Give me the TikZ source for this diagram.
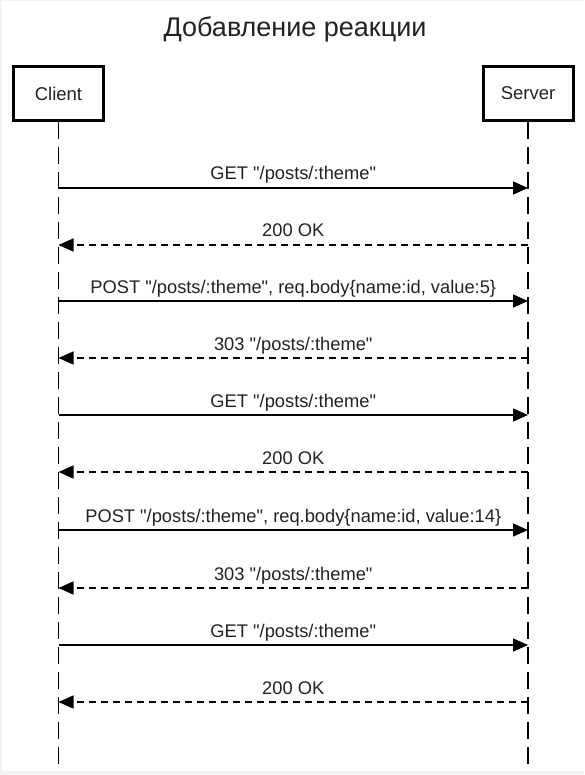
\documentclass[tikz,border=0pt]{standalone}
\usepackage{fontspec}
\setmainfont{Liberation Sans}
\usetikzlibrary{arrows.meta}
\definecolor{bggray}{HTML}{F3F3F3}
\definecolor{txt}{HTML}{222222}
\newcommand{\dq}{\textquotedbl}
\begin{document}
\begin{tikzpicture}[x=1pt,y=-1pt,
  actor/.style={draw=black, line width=3pt, minimum width=90pt, minimum height=54pt, inner sep=0pt, font=\fontsize{18.5}{20}\selectfont, text=txt},
  lifeline/.style={draw=black, line width=1.5pt, dash pattern=on 17pt off 8pt},
  req/.style={draw=black, line width=1.5pt, -{Triangle[length=15pt,width=13pt]}},
  resp/.style={draw=black, line width=1.5pt, dash pattern=on 7pt off 5pt, -{Triangle[length=15pt,width=13pt]}},
  lbl/.style={font=\fontsize{18.3}{20}\selectfont, text=txt, anchor=base, yshift=8pt, inner sep=0pt}]
\fill[bggray] (0,0) rectangle (584,775);
\fill[white] (2,1) rectangle (584,771);
\useasboundingbox (0,0) rectangle (584,775);
\node[font=\fontsize{27}{30}\selectfont, text=txt, anchor=base] (title) at (295,37) {Добавление реакции};
\node[actor] (client) at (58.5,93.5) {Client};
\node[actor] (server) at (528,93.5) {Server};
\coordinate (cend) at (58.5,767);
\coordinate (send) at (528,767);
\draw[lifeline] (client.south) -- (cend);
\draw[lifeline] (server.south) -- (send);
\foreach \i/\y in {1/188,2/245,3/301,4/358,5/415,6/472,7/530,8/588,9/645,10/702}{
  \coordinate (c\i) at (58.5,\y);
  \coordinate (s\i) at (528,\y);
}
\draw[req] (c1) -- node[lbl] {GET \dq/posts/:theme\dq} (s1);
\draw[resp] (s2) -- node[lbl] {200 OK} (c2);
\draw[req] (c3) -- node[lbl] {POST \dq/posts/:theme\dq, req.body\{name:id, value:5\}} (s3);
\draw[resp] (s4) -- node[lbl] {303 \dq/posts/:theme\dq} (c4);
\draw[req] (c5) -- node[lbl] {GET \dq/posts/:theme\dq} (s5);
\draw[resp] (s6) -- node[lbl] {200 OK} (c6);
\draw[req] (c7) -- node[lbl] {POST \dq/posts/:theme\dq, req.body\{name:id, value:14\}} (s7);
\draw[resp] (s8) -- node[lbl] {303 \dq/posts/:theme\dq} (c8);
\draw[req] (c9) -- node[lbl] {GET \dq/posts/:theme\dq} (s9);
\draw[resp] (s10) -- node[lbl] {200 OK} (c10);
\end{tikzpicture}
\end{document}
